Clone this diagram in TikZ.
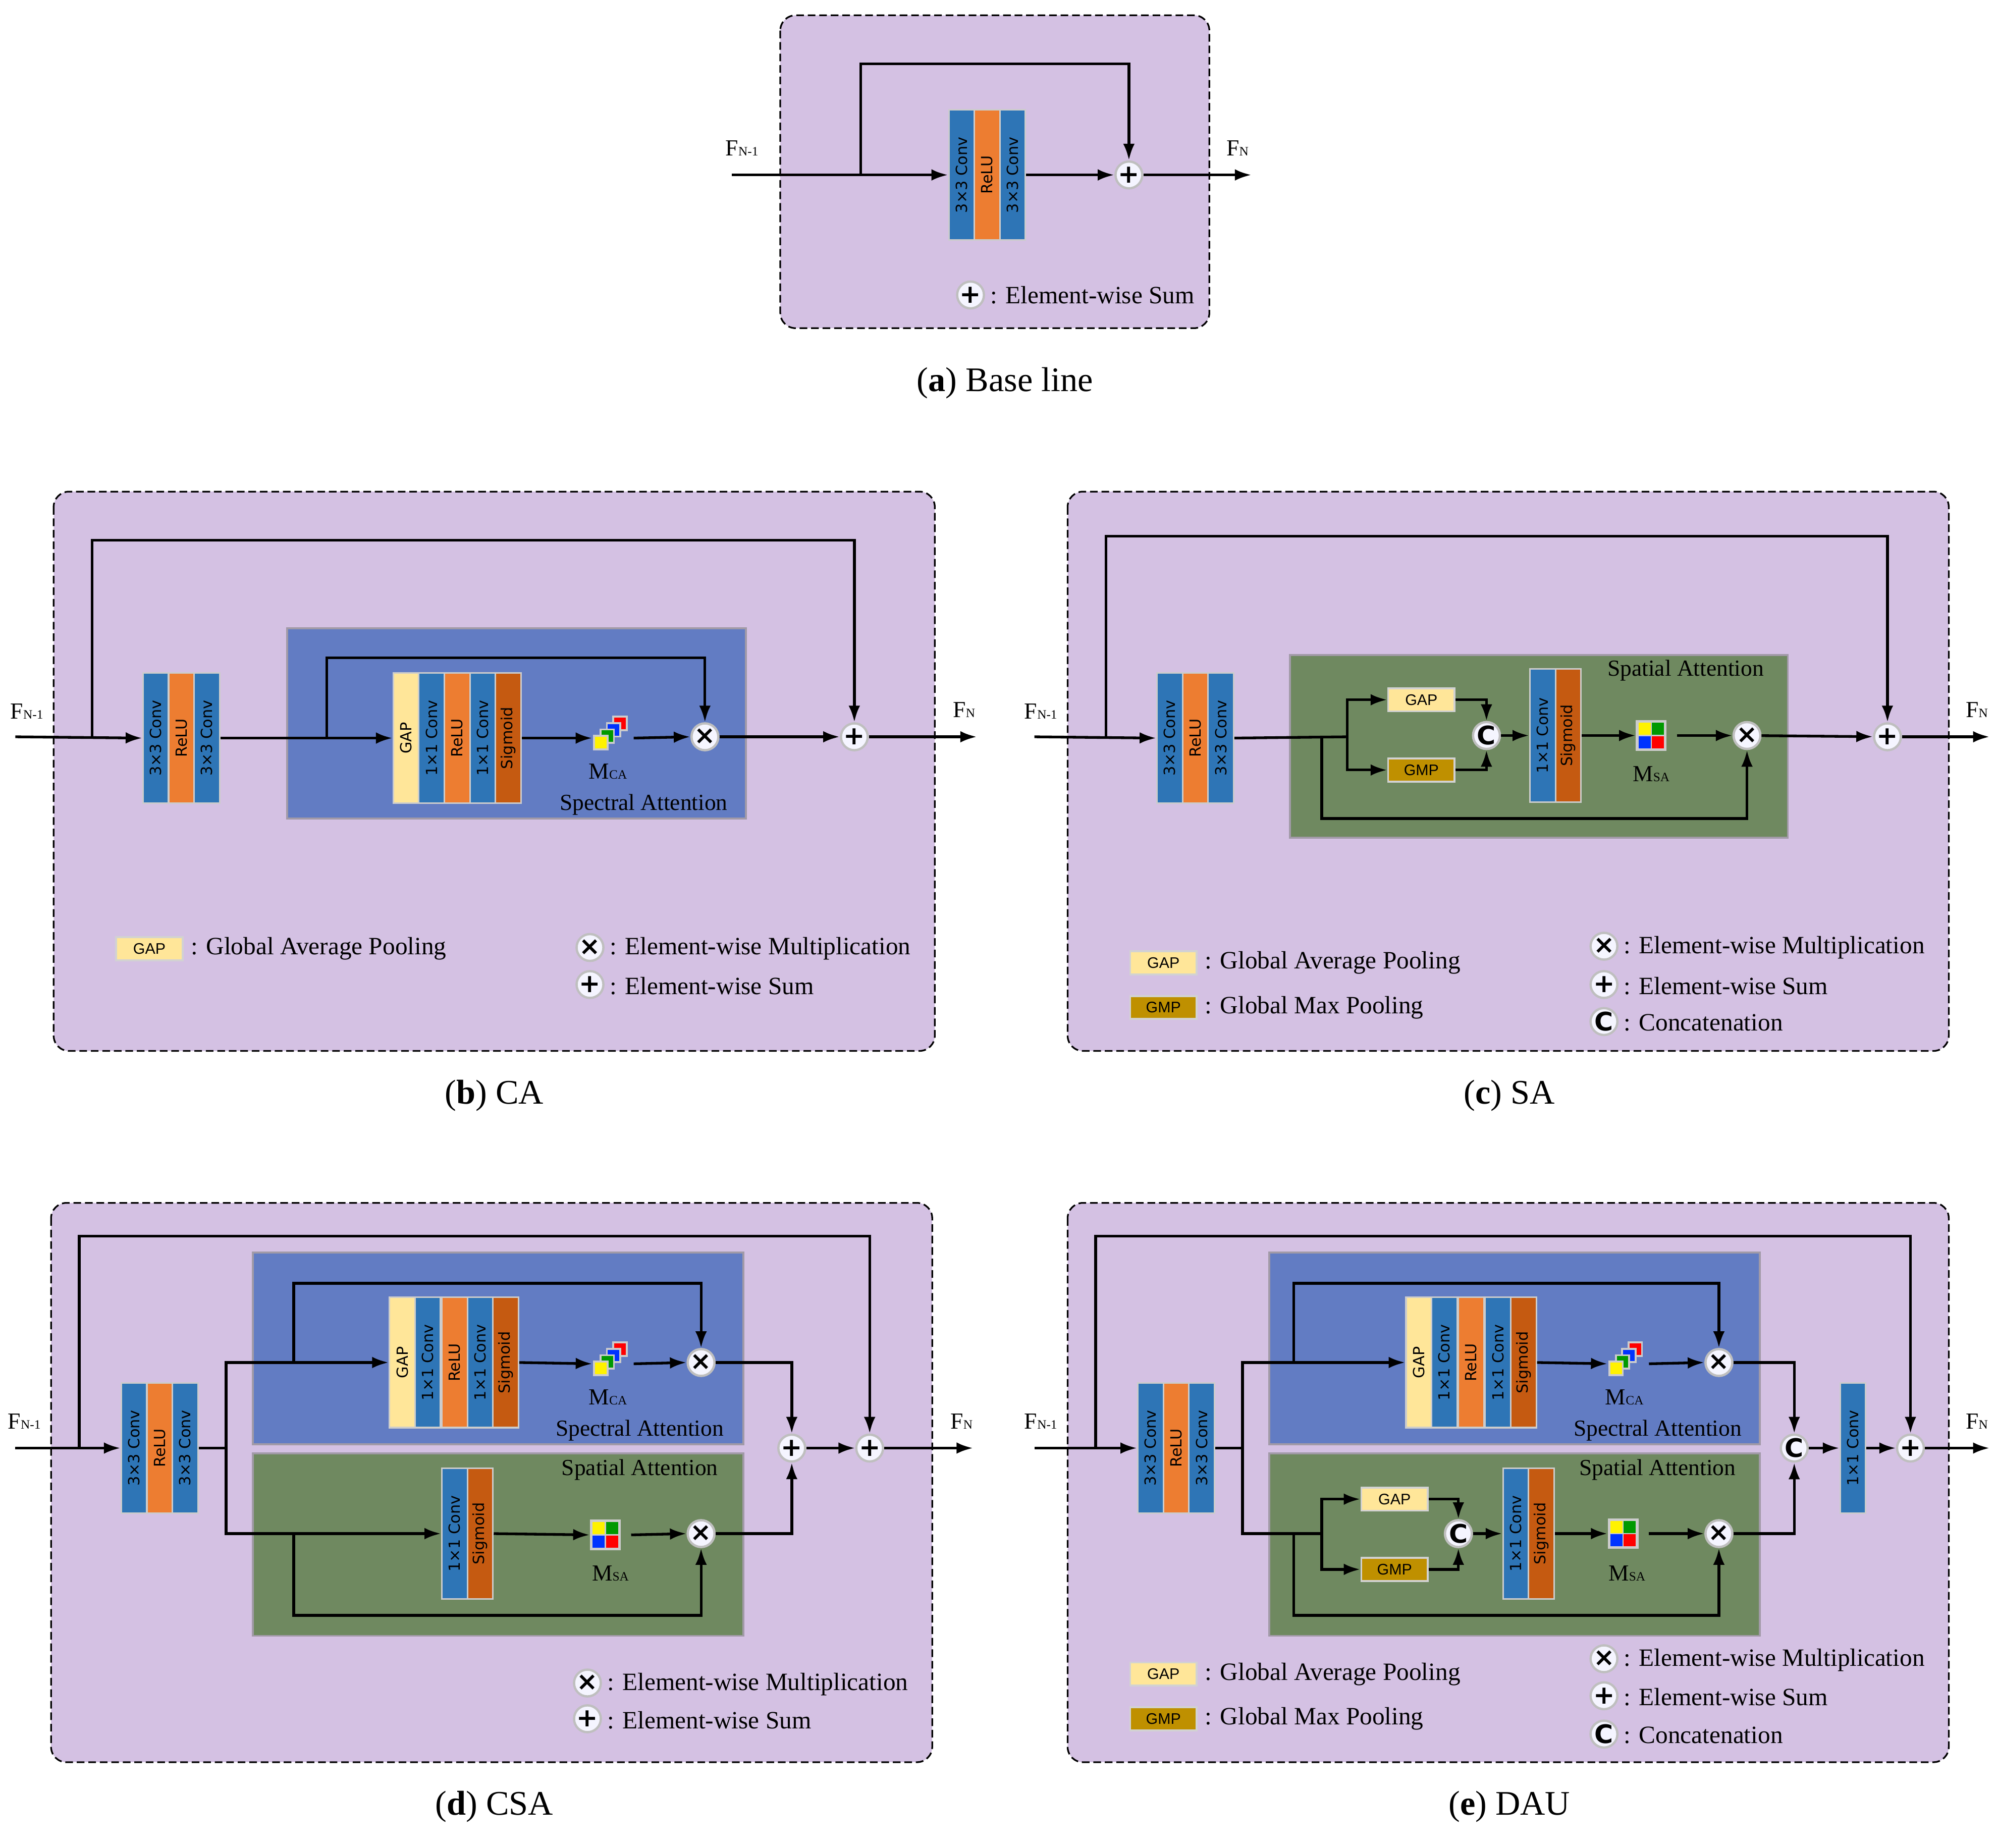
\documentclass[tikz,border=0pt]{standalone}
\usepackage{fontspec}
\setmainfont{Liberation Serif}
\newfontfamily\blkf{DejaVu Sans}
\newfontfamily\gapf{Liberation Sans}
\newfontfamily\opf{DejaVu Sans}
\usetikzlibrary{arrows.meta,calc}
\definecolor{lil}{HTML}{D4C1E3}
\definecolor{cv}{HTML}{2E75B6}
\definecolor{rl}{HTML}{ED7D31}
\definecolor{sg}{HTML}{C55A11}
\definecolor{gp}{HTML}{FFE699}
\definecolor{gm}{HTML}{BF9000}
\definecolor{bbox}{HTML}{627CC3}
\definecolor{gbox}{HTML}{6F8960}
\tikzset{
 panel/.style={draw=black,dash pattern=on 6pt off 3pt,line width=1.3,rounded corners=12,fill=lil},
 sub/.style={draw=gray!60!lil,line width=1.5},
 lay/.style={rotate=90,minimum width=102,minimum height=20,inner sep=0,draw=gray!40,line width=1.2,font=\blkf\fontsize{12}{12}\selectfont},
 op/.style={circle,minimum size=21,inner sep=0,fill=blue!4,draw=gray!50,line width=1.8,font=\opf\bfseries\fontsize{20}{20}\selectfont},
 gbx/.style={minimum width=52,minimum height=18,inner sep=0,draw=gray!35,line width=1.5,font=\gapf\fontsize{12}{12}\selectfont},
 arr/.style={line width=2.1,-{Latex[length=13,width=9]}},
 ln/.style={line width=2.1},
 icon/.style={minimum size=24,inner sep=0},
 lab/.style={font=\fontsize{18}{18}\selectfont},
 leg/.style={anchor=west,font=\fontsize{19.5}{19.5}\selectfont},
 capt/.style={font=\fontsize{27}{27}\selectfont},
}
\newcommand\lyr[5]{\node[lay,fill=#4] (#1) at (#2,#3) {#5};}
\newcommand\FF[1]{F{\fontsize{10}{10}\selectfont #1}}
\newcommand\MM[1]{M{\fontsize{10}{10}\selectfont #1}}
\newcommand\mca[1]{% stacked squares
 \foreach \i/\c in {3/red,2/blue!80!cyan,1/green!60!black,0/yellow}{
  \fill[gray!40] ($(#1)+(-10+5*\i-1.5,8-5*\i+1.5)$) rectangle ++(12,-12);
  \fill[\c] ($(#1)+(-10+5*\i,8-5*\i)$) rectangle ++(9,-9);}}
\newcommand\msa[1]{%
 \fill[gray!40] ($(#1)+(-12,-12)$) rectangle ++(24,24);
 \fill[yellow] ($(#1)+(-10,-10)$) rectangle ++(9.5,9.5);
 \fill[green!60!black] ($(#1)+(0.5,-10)$) rectangle ++(9.5,9.5);
 \fill[blue!80!cyan] ($(#1)+(-10,0.5)$) rectangle ++(9.5,9.5);
 \fill[red] ($(#1)+(0.5,0.5)$) rectangle ++(9.5,9.5);}
\newcommand\tms{\raisebox{0.5pt}{×}}
\begin{document}
\begin{tikzpicture}[x=1pt,y=-1pt]
\useasboundingbox[fill=white] (0,0) rectangle (1563,1447);
%================ (a)
\draw[panel] (611,12) rectangle (947,257);
\lyr{a1}{753}{137}{cv}{3×3 Conv}
\lyr{a2}{773}{137}{rl}{ReLU}
\lyr{a3}{793}{137}{cv}{3×3 Conv}
\node[op] (ap) at (884,137) {+};
\coordinate (ain) at (573,137);
\coordinate (aout) at (980,137);
\coordinate (as) at (674,137);
\draw[arr] (ain) -- (a1.north);
\draw[arr] (a3.south) -- (ap);
\draw[arr] (as) -- ++(0,-87) -| (ap.north);
\draw[arr] (ap) -- (aout);
\node[lab] (afi) at (581,116) {\FF{N-1}};
\node[lab] (afo) at (969,116) {\FF{N}};
\node[op] (alp) at (760,231) {+};
\node[leg] (alt) at (772,231) {: Element-wise Sum};
\node[capt] (acap) at (787,300) {(\textbf{a}) Base line};
%================ (b)
\draw[panel] (42,385) rectangle (732,823);
\draw[sub,fill=bbox] (225,492) rectangle (584,641);
\lyr{b1}{122}{578}{cv}{3×3 Conv}
\lyr{b2}{142}{578}{rl}{ReLU}
\lyr{b3}{162}{578}{cv}{3×3 Conv}
\lyr{b4}{318}{578}{gp}{GAP}
\lyr{b5}{338}{578}{cv}{1×1 Conv}
\lyr{b6}{358}{578}{rl}{ReLU}
\lyr{b7}{378}{578}{cv}{1×1 Conv}
\lyr{b8}{398}{578}{sg}{Sigmoid}
\node[icon] (bm) at (476,578) {}; \mca{bm}
\node[lab] (bml) at (476,604) {\MM{CA}};
\node[op] (bx) at (552,577) {\tms};
\node[op] (bp) at (669,577) {+};
\coordinate (bin) at (12,577); \coordinate (bout) at (765,577);
\coordinate (bs) at (72,577); \coordinate (bs2) at (256,577);
\draw[arr] (bin) -- (b1.north);
\draw[arr] (b3.south) -- (b4.north);
\draw[arr] (bs) -- ++(0,-154) -| (bp.north);
\draw[arr] (bs2) -- ++(0,-62) -| (bx.north);
\draw[arr] (b8.south) -- (bm.west);
\draw[arr] (bm.east) ++(8,0) -- (bx.west);
\draw[arr] (bx) -- (bp);
\draw[arr] (bp) -- (bout);
\node[lab] (bsa) at (504,630) {Spectral Attention};
\node[lab] (bfi) at (21,557) {\FF{N-1}};
\node[lab] (bfo) at (755,556) {\FF{N}};
\node[gbx,fill=gp] (blg) at (117,743) {GAP};
\node[leg] (blgt) at (146,743) {: Global Average Pooling};
\node[op] (blx) at (462,742) {\tms};
\node[leg] (blxt) at (474,743) {: Element-wise Multiplication};
\node[op] (blp) at (462,771) {+};
\node[leg] (blpt) at (474,772) {: Element-wise Sum};
\node[capt] (bcap) at (387,858) {(\textbf{b}) CA};
%================ (c)
\draw[panel] (836,385) rectangle (1526,823);
\draw[sub,fill=gbox] (1010,513) rectangle (1400,656);
\lyr{c1}{916}{578}{cv}{3×3 Conv}
\lyr{c2}{936}{578}{rl}{ReLU}
\lyr{c3}{956}{578}{cv}{3×3 Conv}
\node[gbx,fill=gp] (cg1) at (1113,548) {GAP};
\node[gbx,fill=gm] (cg2) at (1113,603) {GMP};
\node[op] (cc) at (1164,576) {C};
\node[lay,fill=cv,minimum width=104] (c4) at (1208,576) {1×1 Conv};
\node[lay,fill=sg,minimum width=104] (c5) at (1228,576) {Sigmoid};
\node[icon] (cm) at (1293,576) {}; \msa{cm}
\node[lab] (cml) at (1293,606) {\MM{SA}};
\node[op] (cx) at (1368,576) {\tms};
\node[op] (cp) at (1478,577) {+};
\coordinate (cin) at (810,577); \coordinate (cout) at (1558,577);
\coordinate (cs) at (866,577); \coordinate (cbr) at (1055,577); \coordinate (cs2) at (1035,577);
\draw[arr] (cin) -- (c1.north);
\draw[ln] (c3.south) -- (cbr);
\draw[arr] (cbr) |- (cg1.west);
\draw[arr] (cbr) |- (cg2.west);
\draw[arr] (cg1.east) -| (cc.north);
\draw[arr] (cg2.east) -| (cc.south);
\draw[arr] (cc) -- (c4.north);
\draw[arr] (c5.south) -- (cm.west);
\draw[arr] (cm.east) ++(8,0) -- (cx.west);
\draw[arr] (cs2) -- ++(0,64) -| (cx.south);
\draw[arr] (cs) -- ++(0,-157) -| (cp.north);
\draw[arr] (cx) -- (cp);
\draw[arr] (cp) -- (cout);
\node[lab] (csa) at (1320,525) {Spatial Attention};
\node[lab] (cfi) at (815,557) {\FF{N-1}};
\node[lab] (cfo) at (1548,556) {\FF{N}};
\node[gbx,fill=gp] (clg) at (911,754) {GAP};
\node[leg] (clgt) at (940,754) {: Global Average Pooling};
\node[gbx,fill=gm] (clm) at (911,789) {GMP};
\node[leg] (clmt) at (940,789) {: Global Max Pooling};
\node[op] (clx) at (1256,741) {\tms};
\node[leg] (clxt) at (1268,742) {: Element-wise Multiplication};
\node[op] (clp) at (1256,771) {+};
\node[leg] (clpt) at (1268,772) {: Element-wise Sum};
\node[op] (clc) at (1256,800) {C};
\node[leg] (clct) at (1268,801) {: Concatenation};
\node[capt] (ccap) at (1182,858) {(\textbf{c}) SA};
%================ (d)
\draw[panel] (40,942) rectangle (730,1380);
\draw[sub,fill=bbox] (198,981) rectangle (582,1131);
\draw[sub,fill=gbox] (198,1138) rectangle (582,1281);
\lyr{d1}{105}{1134}{cv}{3×3 Conv}
\lyr{d2}{125}{1134}{rl}{ReLU}
\lyr{d3}{145}{1134}{cv}{3×3 Conv}
\lyr{d4}{315}{1067}{gp}{GAP}
\lyr{d5}{335}{1067}{cv}{1×1 Conv}
\lyr{d6}{356}{1067}{rl}{ReLU}
\lyr{d7}{376}{1067}{cv}{1×1 Conv}
\lyr{d8}{396}{1067}{sg}{Sigmoid}
\lyr{d9}{356}{1201}{cv}{1×1 Conv}
\lyr{d10}{376}{1201}{sg}{Sigmoid}
\node[icon] (dm1) at (476,1068) {}; \mca{dm1}
\node[lab] (dml1) at (476,1094) {\MM{CA}};
\node[icon] (dm2) at (474,1202) {}; \msa{dm2}
\node[lab] (dml2) at (478,1232) {\MM{SA}};
\node[op] (dx1) at (549,1067) {\tms};
\node[op] (dx2) at (549,1201) {\tms};
\node[op] (dp1) at (620,1134) {+};
\node[op] (dp2) at (681,1134) {+};
\coordinate (din) at (12,1134); \coordinate (dout) at (762,1134);
\coordinate (ds) at (62,1134); \coordinate (dbr) at (177,1134);
\coordinate (ds1) at (230,1067); \coordinate (ds2) at (230,1201);
\draw[arr] (din) -- (d1.north);
\draw[ln] (d3.south) -- (dbr);
\draw[arr] (dbr) |- (d4.north);
\draw[arr] (dbr) |- (d9.north);
\draw[arr] (ds) -- ++(0,-166) -| (dp2.north);
\draw[arr] (ds1) -- ++(0,-62) -| (dx1.north);
\draw[arr] (ds2) -- ++(0,64) -| (dx2.south);
\draw[arr] (d8.south) -- (dm1.west);
\draw[arr] (dm1.east) ++(8,0) -- (dx1.west);
\draw[arr] (d10.south) -- (dm2.west);
\draw[arr] (dm2.east) ++(8,0) -- (dx2.west);
\draw[arr] (dx1) -| (dp1.north);
\draw[arr] (dx2) -| (dp1.south);
\draw[arr] (dp1) -- (dp2);
\draw[arr] (dp2) -- (dout);
\node[lab] (dsa1) at (501,1120) {Spectral Attention};
\node[lab] (dsa2) at (501,1151) {Spatial Attention};
\node[lab] (dfi) at (19,1113) {\FF{N-1}};
\node[lab] (dfo) at (753,1113) {\FF{N}};
\node[op] (dlx) at (460,1318) {\tms};
\node[leg] (dlxt) at (472,1319) {: Element-wise Multiplication};
\node[op] (dlp) at (460,1346) {+};
\node[leg] (dlpt) at (472,1347) {: Element-wise Sum};
\node[capt] (dcap) at (387,1415) {(\textbf{d}) CSA};
%================ (e)
\draw[panel] (836,942) rectangle (1526,1380);
\draw[sub,fill=bbox] (994,981) rectangle (1378,1131);
\draw[sub,fill=gbox] (994,1138) rectangle (1378,1281);
\lyr{e1}{901}{1134}{cv}{3×3 Conv}
\lyr{e2}{921}{1134}{rl}{ReLU}
\lyr{e3}{941}{1134}{cv}{3×3 Conv}
\lyr{e4}{1111}{1067}{gp}{GAP}
\lyr{e5}{1131}{1067}{cv}{1×1 Conv}
\lyr{e6}{1152}{1067}{rl}{ReLU}
\lyr{e7}{1173}{1067}{cv}{1×1 Conv}
\lyr{e8}{1193}{1067}{sg}{Sigmoid}
\node[gbx,fill=gp] (eg1) at (1092,1174) {GAP};
\node[gbx,fill=gm] (eg2) at (1092,1229) {GMP};
\node[op] (ec1) at (1142,1201) {C};
\lyr{e9}{1187}{1201}{cv}{1×1 Conv}
\lyr{e10}{1207}{1201}{sg}{Sigmoid}
\node[icon] (em1) at (1271,1068) {}; \mca{em1}
\node[lab] (eml1) at (1272,1094) {\MM{CA}};
\node[icon] (em2) at (1271,1201) {}; \msa{em2}
\node[lab] (eml2) at (1274,1232) {\MM{SA}};
\node[op] (ex1) at (1346,1067) {\tms};
\node[op] (ex2) at (1346,1201) {\tms};
\node[op] (ec2) at (1405,1134) {C};
\node[lay,fill=cv] (e11) at (1451,1134) {1×1 Conv};
\node[op] (ep) at (1496,1134) {+};
\coordinate (ein) at (810,1134); \coordinate (eout) at (1558,1134);
\coordinate (es) at (858,1134); \coordinate (ebr) at (973,1134);
\coordinate (es1) at (1013,1067); \coordinate (es2) at (1013,1201);
\coordinate (ebr2) at (1035,1201);
\draw[arr] (ein) -- (e1.north);
\draw[ln] (e3.south) -- (ebr);
\draw[arr] (ebr) |- (e4.north);
\draw[ln] (ebr) |- (ebr2);
\draw[arr] (ebr2) |- (eg1.west);
\draw[arr] (ebr2) |- (eg2.west);
\draw[arr] (eg1.east) -| (ec1.north);
\draw[arr] (eg2.east) -| (ec1.south);
\draw[arr] (ec1) -- (e9.north);
\draw[arr] (es) -- ++(0,-166) -| (ep.north);
\draw[arr] (es1) -- ++(0,-62) -| (ex1.north);
\draw[arr] (es2) -- ++(0,64) -| (ex2.south);
\draw[arr] (e8.south) -- (em1.west);
\draw[arr] (em1.east) ++(8,0) -- (ex1.west);
\draw[arr] (e10.south) -- (em2.west);
\draw[arr] (em2.east) ++(8,0) -- (ex2.west);
\draw[arr] (ex1) -| (ec2.north);
\draw[arr] (ex2) -| (ec2.south);
\draw[arr] (ec2) -- (e11.north);
\draw[arr] (e11.south) -- (ep);
\draw[arr] (ep) -- (eout);
\node[lab] (esa1) at (1298,1120) {Spectral Attention};
\node[lab] (esa2) at (1298,1151) {Spatial Attention};
\node[lab] (efi) at (815,1113) {\FF{N-1}};
\node[lab] (efo) at (1548,1113) {\FF{N}};
\node[gbx,fill=gp] (elg) at (911,1311) {GAP};
\node[leg] (elgt) at (940,1311) {: Global Average Pooling};
\node[gbx,fill=gm] (elm) at (911,1346) {GMP};
\node[leg] (elmt) at (940,1346) {: Global Max Pooling};
\node[op] (elx) at (1256,1299) {\tms};
\node[leg] (elxt) at (1268,1300) {: Element-wise Multiplication};
\node[op] (elp) at (1256,1328) {+};
\node[leg] (elpt) at (1268,1329) {: Element-wise Sum};
\node[op] (elc) at (1256,1358) {C};
\node[leg] (elct) at (1268,1359) {: Concatenation};
\node[capt] (ecap) at (1182,1415) {(\textbf{e}) DAU};
\end{tikzpicture}
\end{document}
